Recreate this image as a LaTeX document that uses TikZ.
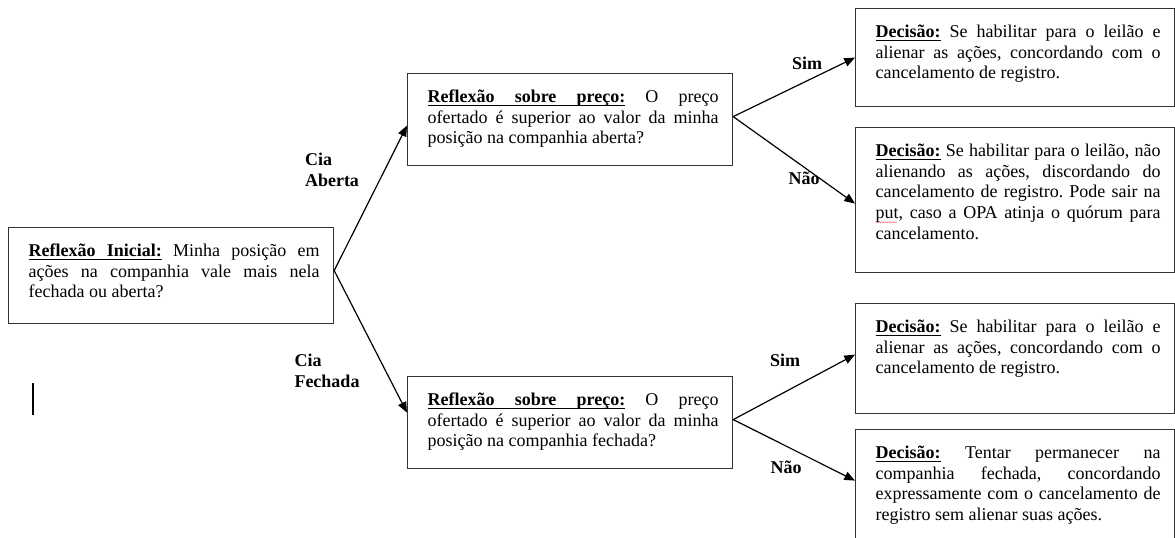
\documentclass[tikz,border=0pt]{standalone}
\usepackage{fontspec}
\setmainfont{Liberation Serif}
\usetikzlibrary{arrows.meta}
\frenchspacing

% sublinhado de palavra e de espaco (o espaco estica na justificacao)
\newcommand\uw[1]{\setbox0\hbox{#1}\rlap{\vrule height -1.7pt depth 2.4pt width \wd0}\box0}
\newcommand\us{\leaders\hrule height -1.7pt depth 2.4pt\hskip\fontdimen2\font plus\fontdimen3\font minus\fontdimen4\font\relax}
\newcommand\redwave[1]{\setbox0\hbox{#1}\rlap{\textcolor{red}{\leaders\hbox{\fontsize{6}{6}\selectfont\raisebox{-5.5pt}{\char"7E}}\hskip\wd0}}\box0}

\tikzset{
  caixa/.style={draw=black!80, line width=0.9pt, inner ysep=0pt, inner xsep=10.5pt,
    text width=222.75pt, align=justify, anchor=north west, text height=21.75pt,
    font=\fontsize{13.5}{15.5}\selectfont, execute at begin node={\leftskip=4.5pt}},
  decisao/.style={caixa, text width=218.25pt},
  rotulo/.style={font=\fontsize{13.5}{15.5}\selectfont\bfseries, align=left, inner sep=0pt},
  seta/.style={black, line width=0.9pt, -{Triangle[length=8pt,width=6.5pt]}}
}

\begin{document}
\begin{tikzpicture}[x=0.75pt,y=-0.75pt]
        \useasboundingbox (0,0) rectangle (1175,537);
        % caixas
        \node[caixa, text depth=50.25pt] (inicial) at (8,227) {\textbf{\uw{Reflexão}\us\uw{Inicial:}} Minha posição em\linebreak ações na companhia vale mais nela\linebreak fechada ou aberta?};
        \node[caixa, text depth=47.25pt] (precoA) at (407,73) {\textbf{\uw{Reflexão}\us\uw{sobre}\us\uw{preço:}} O preço\linebreak ofertado é superior ao valor da minha\linebreak posição na companhia aberta?};
        \node[caixa, text depth=47.25pt] (precoB) at (407,376) {\textbf{\uw{Reflexão}\us\uw{sobre}\us\uw{preço:}} O preço\linebreak ofertado é superior ao valor da minha\linebreak posição na companhia fechada?};
        \node[decisao, text depth=51.75pt] (decA) at (855,8) {\textbf{\uw{Decisão:}} Se habilitar para o leilão e\linebreak alienar as ações, concordando com o\linebreak cancelamento de registro.};
        \node[decisao, text depth=87pt] (decB) at (855,127) {\textbf{\uw{Decisão:}} Se habilitar para o leilão, não\linebreak alienando as ações, discordando do\linebreak cancelamento de registro. Pode sair na\linebreak \redwave{put}, caso a OPA atinja o quórum para\linebreak cancelamento.};
        \node[decisao, text depth=60.75pt] (decC) at (855,303) {\textbf{\uw{Decisão:}} Se habilitar para o leilão e\linebreak alienar as ações, concordando com o\linebreak cancelamento de registro.};
        \node[decisao, text depth=83.25pt] (decD) at (855,429) {\textbf{\uw{Decisão:}} Tentar permanecer na\linebreak companhia fechada, concordando\linebreak expressamente com o cancelamento de\linebreak registro sem alienar suas ações.};
        % setas
        \draw[seta] ([yshift=3.75pt]inicial.east) -- ([yshift=-4.5pt]precoA.west);
        \draw[seta] ([yshift=3.75pt]inicial.east) -- ([yshift=7.5pt]precoB.west);
        \draw[seta] ([yshift=2.25pt]precoA.east) -- (decA.west);
        \draw[seta] ([yshift=2.25pt]precoA.east) -- ([yshift=-2.6pt]decB.west);
        \draw[seta] ([yshift=2.25pt]precoB.east) -- ([yshift=3pt]decC.west);
        \draw[seta] ([yshift=2.25pt]precoB.east) -- ([yshift=14.25pt]decD.west);
        % rotulos
        \node[rotulo] (ciaA) at (332,170) {Cia\\Aberta};
        \node[rotulo] (ciaF) at (327,371) {Cia\\Fechada};
        \node[rotulo] (simA) at (807,63) {Sim};
        \node[rotulo] (naoA) at (804,178) {Não};
        \node[rotulo] (simB) at (785,360) {Sim};
        \node[rotulo] (naoB) at (786,467) {Não};
        \draw[line width=1.5pt] (33,383) -- (33,415);
\end{tikzpicture}
\end{document}
